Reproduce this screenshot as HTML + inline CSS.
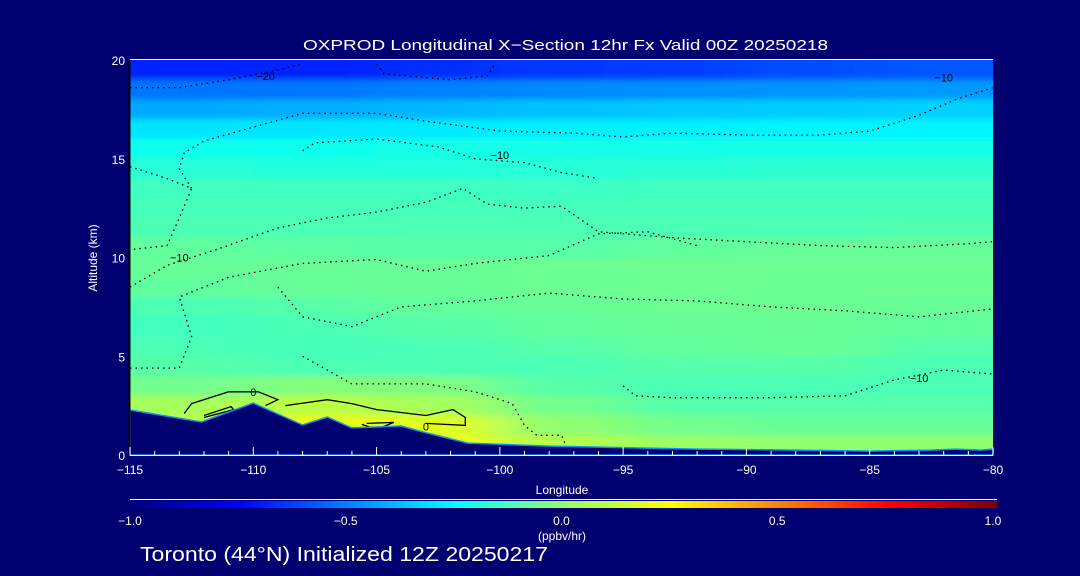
<!DOCTYPE html>
<html><head><meta charset="utf-8"><style>
html,body{margin:0;padding:0;background:#000070;}
svg{display:block;font-family:"Liberation Sans",sans-serif;}
</style></head><body>
<svg id="chart" width="1080" height="576" viewBox="0 0 1080 576">
<rect x="0" y="0" width="1080" height="576" fill="#000070"/>
<defs>
<clipPath id="plotClip"><rect x="130" y="60" width="863" height="395"/></clipPath>
<filter id="blur" x="-10%" y="-10%" width="120%" height="120%"><feGaussianBlur stdDeviation="30 3"/></filter>
<linearGradient id="cbar" x1="0" x2="1" y1="0" y2="0">
<stop offset="0" stop-color="#000080"/><stop offset="0.125" stop-color="#0000ff"/><stop offset="0.25" stop-color="#0080ff"/><stop offset="0.375" stop-color="#00ffff"/><stop offset="0.5" stop-color="#90ff70"/><stop offset="0.625" stop-color="#ffff00"/><stop offset="0.75" stop-color="#ff8000"/><stop offset="0.875" stop-color="#ff0000"/><stop offset="1" stop-color="#800000"/>
</linearGradient>
</defs>
<g clip-path="url(#plotClip)"><g id="cells" filter="url(#blur)"></g></g>
<g id="contours" clip-path="url(#plotClip)"></g>
<g id="terrain"></g>
<g id="axes"></g>
<text x="303" y="50" fill="#fff" font-size="15" textLength="525" lengthAdjust="spacingAndGlyphs">OXPROD Longitudinal X−Section 12hr  Fx Valid 00Z 20250218</text>
<text transform="translate(97,258) rotate(-90)" fill="#fff" font-size="12" text-anchor="middle">Altitude (km)</text>
<text x="562" y="494" fill="#fff" font-size="12" text-anchor="middle">Longitude</text>
<line x1="130" y1="499.5" x2="997" y2="499.5" stroke="#fff" stroke-width="1"/>
<rect x="130" y="501" width="867" height="7" fill="url(#cbar)"/>
<g id="cbarLabels"></g>
<text x="562" y="540" fill="#fff" font-size="12" text-anchor="middle">(ppbv/hr)</text>
<text x="140" y="561" fill="#fff" font-size="20" textLength="408" lengthAdjust="spacingAndGlyphs">Toronto (44°N) Initialized 12Z 20250217</text>
</svg>
<script>
const colLons = [-112.5,-107.5,-102.5,-97.5,-92.5,-87.5,-82.5];
const rowAlts = [19.5,18.5,17.5,16.5,15.5,14.5,13.5,12.5,11.5,10.5,9.5,8.5,7.5,6.5,5.5,4.5,3.5,2.5,1.5,0.5];
const gridValues = [
[-0.68,-0.68,-0.66,-0.64,-0.63,-0.6,-0.58],
[-0.52,-0.52,-0.5,-0.48,-0.47,-0.46,-0.45],
[-0.42,-0.41,-0.39,-0.37,-0.36,-0.35,-0.34],
[-0.3,-0.3,-0.29,-0.28,-0.28,-0.27,-0.27],
[-0.22,-0.22,-0.21,-0.21,-0.21,-0.21,-0.21],
[-0.18,-0.19,-0.19,-0.18,-0.18,-0.17,-0.17],
[-0.14,-0.14,-0.14,-0.15,-0.14,-0.14,-0.14],
[-0.13,-0.13,-0.13,-0.13,-0.13,-0.13,-0.13],
[-0.12,-0.12,-0.12,-0.12,-0.12,-0.12,-0.11],
[-0.08,-0.09,-0.1,-0.1,-0.08,-0.07,-0.07],
[-0.07,-0.07,-0.07,-0.06,-0.06,-0.06,-0.06],
[-0.08,-0.07,-0.07,-0.06,-0.06,-0.06,-0.06],
[-0.12,-0.1,-0.08,-0.07,-0.06,-0.06,-0.07],
[-0.14,-0.12,-0.1,-0.08,-0.07,-0.07,-0.08],
[-0.12,-0.13,-0.12,-0.1,-0.08,-0.07,-0.1],
[-0.1,-0.12,-0.12,-0.12,-0.1,-0.1,-0.12],
[-0.05,-0.02,-0.03,-0.1,-0.12,-0.12,-0.12],
[0.05,0.1,0.05,-0.05,-0.1,-0.1,-0.1],
[0.1,0.2,0.18,0.0,-0.05,-0.07,-0.07],
[0.1,0.2,0.2,0.08,0.02,0.0,0.0]
];
const terrainLons = [-115,-112.1,-110,-108,-107,-106,-104,-103.1,-101.3,-98,-96,-92,-88,-85,-82.5,-81.5,-80.5,-80];
const terrainAlts = [2.28,1.67,2.63,1.52,1.92,1.37,1.47,1.16,0.6,0.45,0.4,0.3,0.25,0.2,0.25,0.3,0.25,0.3];
const xTicks = [-115,-110,-105,-100,-95,-90,-85,-80];
const yTicks = [0,5,10,15,20];
const cbarTicks = ["-1.0","-0.5","0.0","0.5","1.0"];
const dottedA = [[-115,18.6],[-113,18.6],[-111,19],[-109,19.5],[-108,19.8]];
const dottedB = [[-105,19.8],[-104.7,19.3],[-102,19.0],[-100.5,19.2],[-100.2,19.8]];
const dottedC = [[-112.5,13.5],[-113,14.5],[-112.8,15.3],[-112,15.9],[-110,16.6],[-108,17.3],[-105,17.3],[-103,16.9],[-100,16.4],[-97,16.3],[-95,16.1],[-93,16.3],[-90,16.2],[-87,16.2],[-85,16.4],[-83,17.2],[-81.5,18],[-80,18.6]];
const dottedD = [[-108,15.4],[-107.5,15.8],[-105,16],[-102.5,15.6],[-101,15],[-99,14.8],[-97.5,14.3],[-96,14.0]];
const dottedE = [[-115,14.6],[-113.5,14.0],[-112.5,13.5],[-113,12],[-113.5,10.6],[-115,10.4]];
const dottedF = [[-115,8.5],[-113.5,9.6],[-111.5,10.4],[-109,11.5],[-107,12],[-105,12.3],[-103,12.8],[-101.5,13.5],[-100.5,12.7],[-99,12.5],[-97.5,12.6],[-96,11.3],[-93,11],[-90,10.8],[-87,10.6],[-84,10.5],[-81,10.7],[-80,10.8]];
const dottedG = [[-115,4.4],[-113,4.4],[-112.5,6],[-113,8],[-111,9],[-108,9.7],[-105,9.9],[-103,9.3],[-101,9.7],[-98,10.1],[-96,11.2],[-94,11.3],[-92,10.6]];
const dottedH = [[-109,8.5],[-108,7],[-106,6.5],[-104,7.5],[-101,7.8],[-98,8.2],[-95,7.9],[-92,7.8],[-89,7.5],[-86,7.3],[-83,7.0],[-80,7.4]];
const dottedI = [[-95,3.5],[-94.5,3.0],[-93,2.9],[-89,2.9],[-86,3.0],[-84,3.8],[-82,4.3],[-80,4.1]];
const dottedJ = [[-108,5],[-106,3.6],[-103,3.6],[-101,3.2],[-99.5,2.6],[-99,1.5],[-98.5,1.0],[-97.5,1.0],[-97.3,0.4]];
const solidA = [[-112.8,2.1],[-112.5,2.6],[-111,3.2],[-109.8,3.2],[-109,2.8],[-109.5,2.5]];
const solidB = [[-108.7,2.5],[-107,2.8],[-106,2.6],[-105,2.3],[-103,2.0],[-101.9,2.3],[-101.4,1.9],[-101.4,1.5],[-103,1.6]];
const solidC = [[-112,1.9],[-110.8,2.3],[-110.9,2.45],[-112,2.0]];
const solidD = [[-105.4,1.6],[-104.3,1.65],[-105,1.3],[-105.6,1.55]];
const contourSets = [dottedA,dottedB,dottedC,dottedD,dottedE,dottedF,dottedG,dottedH,dottedI,dottedJ];
const solidSets = [solidA,solidB,solidC,solidD];

const X0=130,X1=993,Y0=455,Y1=60;
function xs(lon){return X0+(lon+115)/35*(X1-X0);}
function ys(a){return Y0-a/20*(Y0-Y1);}
const stops=[[-1,[0,0,128]],[-0.75,[0,0,255]],[-0.5,[0,128,255]],[-0.25,[0,255,255]],[0,[144,255,112]],[0.25,[255,255,0]],[0.5,[255,128,0]],[0.75,[255,0,0]],[1,[128,0,0]]];
function color(v){v=Math.max(-1,Math.min(1,v));for(let i=0;i<stops.length-1;i++){const a=stops[i],b=stops[i+1];if(v<=b[0]){const t=(v-a[0])/(b[0]-a[0]);const c=a[1].map((q,k)=>Math.round(q+(b[1][k]-q)*t));return `rgb(${c[0]},${c[1]},${c[2]})`;}}return 'rgb(128,0,0)';}
const NS='http://www.w3.org/2000/svg';
function mk(tag,attrs,parent){const e=document.createElementNS(NS,tag);for(const k in attrs)e.setAttribute(k,attrs[k]);parent.appendChild(e);return e;}
const cells=document.getElementById('cells');
rowAlts.forEach((alt,r)=>{colLons.forEach((lon,c)=>{
  let x0=xs(lon-2.5),x1=xs(lon+2.5),y0=ys(alt+0.5),y1=ys(alt-0.5);
  if(c===0)x0-=80; if(c===colLons.length-1)x1+=80; if(r===0)y0-=30; if(r===rowAlts.length-1)y1+=30;
  const e=mk('rect',{x:x0,y:y0,width:x1-x0+1,height:y1-y0+1,fill:color(gridValues[r][c])},cells);
  
  
});});
const cg=document.getElementById('contours');
function pts(arr){return arr.map(p=>xs(p[0]).toFixed(1)+','+ys(p[1]).toFixed(1)).join(' ');}
contourSets.forEach(s=>{const e=mk('polyline',{points:pts(s),fill:'none',stroke:'#000','stroke-width':1.3,'stroke-dasharray':'1.5 4'},cg);
  
  });
solidSets.forEach(s=>{const e=mk('polyline',{points:pts(s),fill:'none',stroke:'#000','stroke-width':1.3},cg);
  
  });
[[-110,3],[-103,1.25],[-113,9.8],[-100,15],[-109.5,19],[-82,18.9],[-83,3.7]].forEach((p,i)=>{
  const t=mk('text',{x:xs(p[0]),y:ys(p[1]),fill:'#000','font-size':11,'text-anchor':'middle'},cg);
  t.textContent=['0','0','−10','−10','−20','−10','−10'][i];
  
  });
const tg=document.getElementById('terrain');
let d='M'+xs(terrainLons[0])+','+ys(terrainAlts[0]);
terrainLons.forEach((l,i)=>{d+=' L'+xs(l).toFixed(1)+','+ys(terrainAlts[i]).toFixed(1);});
d+=' L'+X1+','+Y0+' L'+X0+','+Y0+' Z';
const tp=mk('path',{d:d,fill:'#000070',stroke:'#1090ff','stroke-width':1.5},tg);


const ax=document.getElementById('axes');
const bl=mk('line',{x1:X0,y1:Y0+0.5,x2:X1,y2:Y0+0.5,stroke:'#fff'},ax);


const ll=mk('line',{x1:X0-0.5,y1:Y1,x2:X0-0.5,y2:Y0,stroke:'#000','stroke-width':2},ax);


const tl=mk('line',{x1:X0,y1:Y1-0.5,x2:X1,y2:Y1-0.5,stroke:'#fff'},ax);


for(let l=-115;l<=-80;l++){const e=mk('line',{x1:xs(l),y1:Y0,x2:xs(l),y2:Y0-(l%5===0?8:4),stroke:'#fff'},ax);
  
  }
xTicks.forEach(l=>{const t=mk('text',{x:xs(l),y:474,fill:'#fff','font-size':12,'text-anchor':'middle'},ax);t.textContent=String(l).replace('-','−');
  
  });
yTicks.forEach(a=>{const t=mk('text',{x:125,y:ys(a)+5,fill:'#fff','font-size':12,'text-anchor':'end'},ax);t.textContent=String(a);
  
  });
const cl=document.getElementById('cbarLabels');
cbarTicks.forEach((s,i)=>{const t=mk('text',{x:130+i*(993-130)/4,y:525,fill:'#fff','font-size':12,'text-anchor':'middle'},cl);t.textContent=s.replace('-','−');
  
  });
</script>
</body></html>
